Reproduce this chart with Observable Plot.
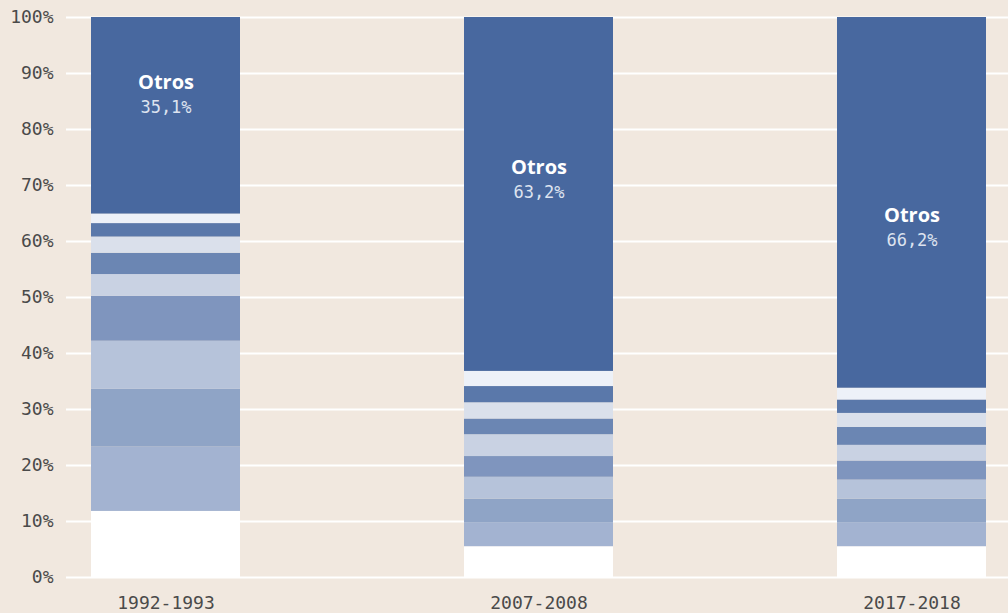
<!DOCTYPE html>
<html>
<head>
<meta charset="utf-8">
<script src="https://cdn.jsdelivr.net/npm/d3@7"></script>
<script src="https://cdn.jsdelivr.net/npm/@observablehq/plot@0.6"></script>
<style>
  html, body { margin: 0; padding: 0; background: #f1e8df; }
  #chart svg { display: block; }
</style>
</head>
<body>
<div id="chart"></div>
<script>
// Periods (bars)
const periods = ["1992-1993", "2007-2008", "2017-2018"];
// Segment groups, bottom to top
const groups = ["G1", "G2", "G3", "G4", "G5", "G6", "G7", "G8", "G9", "G10", "Otros"];
const groupColors = ["#ffffff", "#a3b3d1", "#8fa4c6", "#b6c3da", "#7f95be", "#c9d2e3", "#6b86b3", "#dae0eb", "#5a78aa", "#edf1f8", "#48689f"];
// Shares (%) per period, bottom to top (last = Otros)
const share1992 = [11.8, 11.5, 10.3, 8.6, 8.0, 3.9, 3.8, 2.9, 2.4, 1.7, 35.1];
const share2007 = [5.5, 4.3, 4.2, 3.9, 3.7, 3.9, 2.8, 2.9, 2.9, 2.7, 63.2];
const share2017 = [5.5, 4.3, 4.2, 3.4, 3.4, 2.8, 3.2, 2.5, 2.4, 2.1, 66.2];
// Where the "Otros" label sits (in %)
const otrosLabelAt = [88.4, 73.2, 64.7];
const yTicks = [0, 10, 20, 30, 40, 50, 60, 70, 80, 90, 100];

const shares = [share1992, share2007, share2017];
const data = [];
periods.forEach((p, i) => {
  groups.forEach((g, j) => {
    data.push({period: p, group: g, value: shares[i][j]});
  });
});
const labels = periods.map((p, i) => ({period: p, y: otrosLabelAt[i], value: shares[i][shares[i].length - 1]}));
const fmt = v => v.toFixed(1).replace(".", ",") + "%";

const chart = Plot.plot({
  width: 1008,
  height: 613,
  marginLeft: 66,
  marginRight: 0,
  marginTop: 17,
  marginBottom: 36,
  style: {background: "#f1e8df", fontFamily: "DejaVu Sans Mono, monospace"},
  x: {domain: periods, paddingInner: 0.6, paddingOuter: 0.0627, align: 0.535, label: null},
  y: {domain: [0, 100], label: null},
  color: {domain: groups, range: groupColors},
  marks: [
    Plot.ruleY(yTicks, {stroke: "#ffffff", strokeWidth: 2}),
    Plot.barY(data, Plot.stackY({
      x: "period", y: "value", fill: "group", order: groups
    })),
    Plot.axisY(yTicks, {
      tickSize: 0, tickPadding: 13, tickFormat: d => d + "%",
      fontSize: 18, fill: "#4a4a4a", label: null
    }),
    Plot.axisX({
      tickSize: 0, tickPadding: 19, fontSize: 18, fill: "#4a4a4a", label: null
    }),
    Plot.text(labels, {
      x: "period", y: "y", text: d => "Otros",
      fill: "#ffffff", fontSize: 20, fontWeight: 700,
      fontFamily: "Open Sans, sans-serif", dy: 0
    }),
    Plot.text(labels, {
      x: "period", y: "y", text: d => fmt(d.value),
      fill: "#dde3ef", fontSize: 17, dy: 25,
      fontFamily: "DejaVu Sans Mono, monospace"
    })
  ]
});
document.getElementById("chart").appendChild(chart);
</script>
</body>
</html>
